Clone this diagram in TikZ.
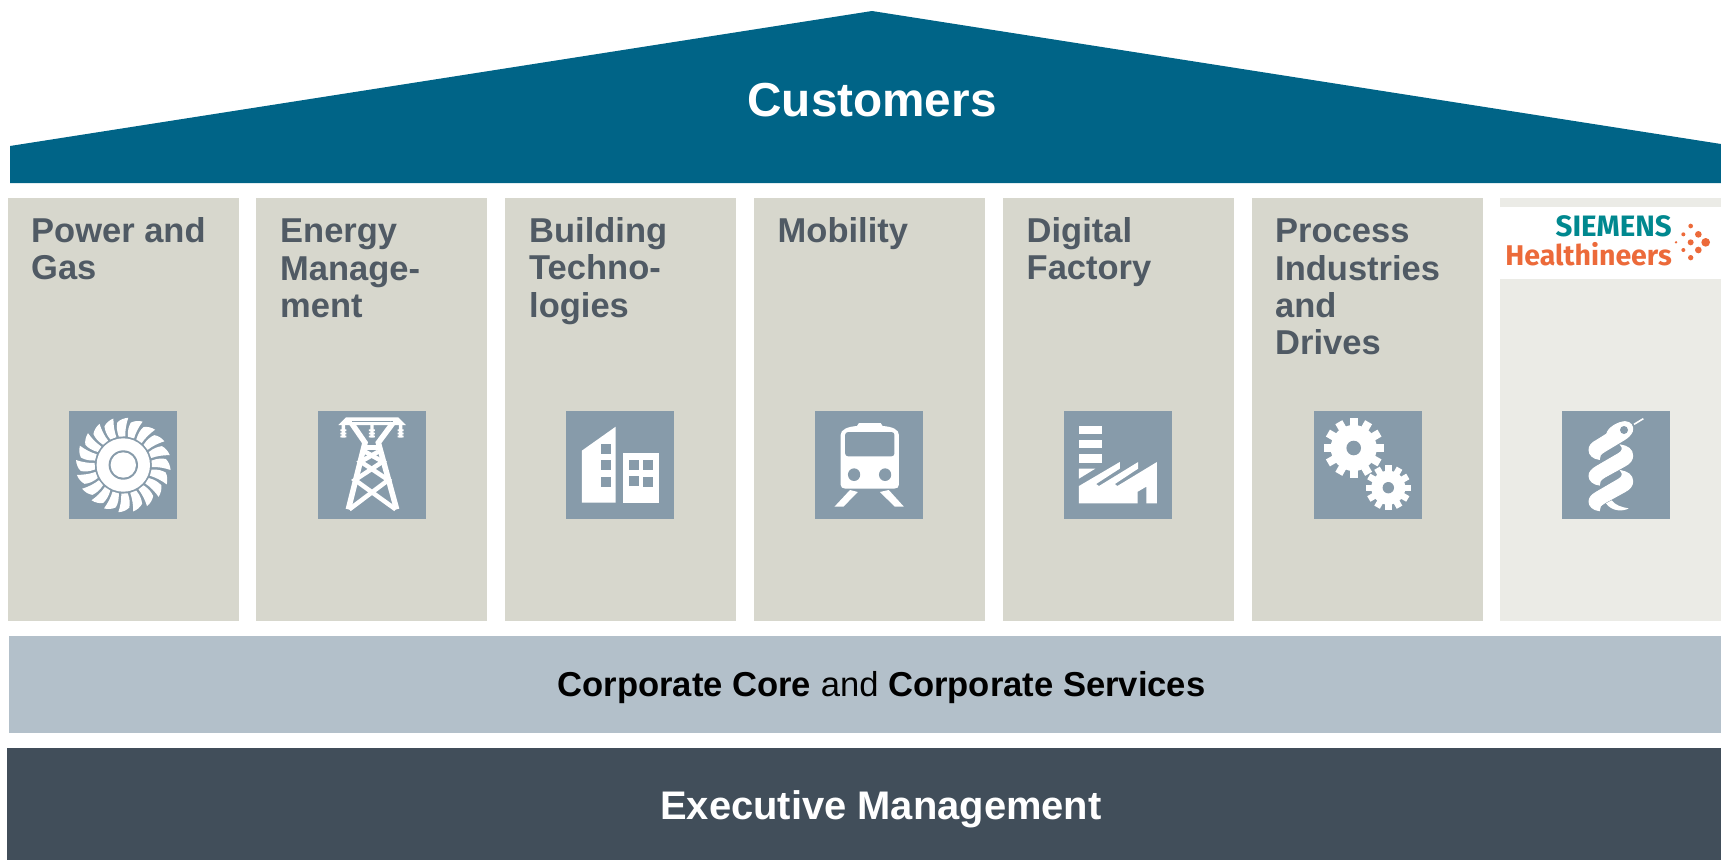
\documentclass[tikz,border=0pt]{standalone}
\usepackage{fontspec}
\setmainfont{Liberation Sans}
\newfontfamily\logofont{Fira Sans}
\definecolor{roofblue}{HTML}{006487}
\definecolor{colgrey}{HTML}{D7D7CD}
\definecolor{collight}{HTML}{EBEBE6}
\definecolor{iconblue}{HTML}{879BAA}
\definecolor{corebar}{HTML}{B3C0CA}
\definecolor{execbar}{HTML}{414E5A}
\definecolor{coltext}{HTML}{505A64}
\definecolor{logoteal}{HTML}{00888F}
\definecolor{logoorange}{HTML}{EC6A3A}
\tikzset{
  colbox/.style={fill=colgrey,inner sep=0,minimum width=231pt,minimum height=423pt,anchor=north west},
  iconbox/.style={fill=iconblue,inner sep=0,minimum size=108pt},
  collabel/.style={text=coltext,inner sep=0,anchor=north west,align=left,execute at begin node=\strut,font=\bfseries\fontsize{34.5}{37.3}\selectfont},
  zoomone/.style={shift={(50,390)},scale=1/3},
  zoomtwo/.style={shift={(550,390)},xscale=1/2.45,yscale=1/3},
  zoomthree/.style={shift={(1290,390)},scale=1/3},
  logozoom/.style={shift={(1480,190)},scale=1/3},
}
\begin{document}
\begin{tikzpicture}[x=1pt,y=-1pt]
\useasboundingbox (0,0) rectangle (1721,860);
\fill[roofblue] (10,146) -- (872,11) -- (1721,144) -- (1721,183) -- (10,183) -- cycle;
\node[white,font=\bfseries\fontsize{47.7}{50}\selectfont] (customers) at (872,100) {Customers};
%
\node[colbox] (power) at (8,197.5) {};
\node[colbox] (energy) at (256,197.5) {};
\node[colbox] (building) at (505,197.5) {};
\node[colbox] (mobility) at (754,197.5) {};
\node[colbox] (digital) at (1003,197.5) {};
\node[colbox] (process) at (1252,197.5) {};
\node[colbox,fill=collight,minimum width=221pt] (health) at (1500,197.5) {};
%
\node[collabel] (powertext) at (31,217.4) {Power and\\Gas};
\node[collabel] (energytext) at (280,218.8) {Energy\\Manage-\\ment};
\node[collabel] (buildingtext) at (529,217.4) {Building\\Techno-\\logies};
\node[collabel] (mobilitytext) at (777.5,216.4) {Mobility};
\node[collabel] (digitaltext) at (1026.5,217.4) {Digital\\Factory};
\node[collabel] (processtext) at (1275,219) {Process\\Industries\\and\\Drives};
%
\node[iconbox] (powericon) at (123,465) {};
\node[iconbox] (energyicon) at (371.5,465) {};
\node[iconbox] (buildingicon) at (620,465) {};
\node[iconbox] (mobilityicon) at (869,465) {};
\node[iconbox] (digitalicon) at (1118,465) {};
\node[iconbox] (processicon) at (1367.5,465) {};
\node[iconbox] (healthicon) at (1616,465) {};
%
% turbine
\begin{scope}[shift={(123.3,465)},yscale=-1]
\foreach \a in {0,18,...,350}
  \fill[white,rotate=\a] (99:28.7) .. controls (101:35) and (100:39) .. (98:43) .. controls (94:45.5) and (89:47) .. (84:47.5) .. controls (86:41) and (87:35) .. (86:28.7) -- cycle;
\fill[white] (0,0) circle (26.7);
\fill[iconblue] (0,0) circle (14.7);
\fill[white] (0,0) circle (12.7);
\end{scope}
%
% tower
\begin{scope}[zoomone,white]
\fill (865,105) -- (888,82) -- (1045,82) -- (1068,105) -- cycle;
\fill[iconblue] (905,92) rectangle (1030,96);
\draw[line width=5.5pt] (905,100) -- (945,158) -- (895,358);
\draw[line width=5.5pt] (1028,100) -- (985,158) -- (1040,358);
\draw[line width=4.5pt] (940,172) -- (990,172);
\draw[line width=4.5pt] (898,358) -- (1015,270) -- (932,215) -- (985,185);
\draw[line width=4.5pt] (1037,358) -- (915,270) -- (998,215) -- (945,185);
\foreach \x in {880,966,1052}
  \fill (\x-5,105) rectangle (\x+5,143) (\x-9,118) rectangle (\x+9,123) (\x-9,128) rectangle (\x+9,133) (\x-9,137) rectangle (\x+9,142);
\end{scope}
%
% buildings
\begin{scope}[zoomtwo]
\fill[white] (78,182) -- (161,110) -- (161,338) -- (78,338) -- cycle;
\fill[white] (179,189) rectangle (267,339);
\fill[iconblue] (125,162) rectangle (149,192);
\fill[iconblue] (125,210) rectangle (149,240);
\fill[iconblue] (125,261) rectangle (149,291);
\fill[iconblue] (194,210) rectangle (218,240);
\fill[iconblue] (228,210) rectangle (252,240);
\fill[iconblue] (194,258) rectangle (218,288);
\fill[iconblue] (228,261) rectangle (252,291);
%
% train
\fill[white] (712,135) .. controls (712,118) and (730,110) .. (752,108) -- (757,99) -- (810,99) -- (815,108) .. controls (838,110) and (855,118) .. (855,135) -- (855,284) .. controls (855,292) and (850,296) .. (843,296) -- (724,296) .. controls (717,296) and (712,292) .. (712,284) -- cycle;
\fill[iconblue,rounded corners=3pt] (723,126) rectangle (844,199);
\fill[iconblue] (745,254) ellipse (15 and 19);
\fill[iconblue] (821,254) ellipse (15 and 19);
\fill[white] (735,300) -- (754,306) -- (719,350) -- (697,350) -- cycle;
\fill[white] (808,306) -- (830,300) -- (867,350) -- (845,350) -- cycle;
%
% factory
\fill[white] (1296,108) rectangle (1352,132);
\fill[white] (1296,150) rectangle (1352,174);
\fill[white] (1296,192) rectangle (1352,219);
\fill[white] (1296,236) -- (1336,236) -- (1296,266) -- cycle;
\fill[white] (1296,340) -- (1296,288) -- (1396,216) -- (1396,236) -- (1338,282) -- (1345,288) -- (1441,216) -- (1441,236) -- (1384,282) -- (1390,288) -- (1487,216) -- (1487,340) -- (1461,340) -- (1461,290) -- (1440,305) -- (1440,340) -- cycle;
\end{scope}
%
% gears
\begin{scope}[shift={(1353.7,448)}]
\foreach \a in {0,30,...,330}
  \fill[white,rotate=\a] (-4,-22) rectangle (4,-29.8);
\fill[white] (0,0) circle (23);
\fill[iconblue] (0,0) circle (7.3);
\end{scope}
\begin{scope}[shift={(1388.3,487.7)}]
\foreach \a in {0,30,...,330}
  \fill[white,rotate=\a] (-3.2,-16) rectangle (3.2,-22.5);
\fill[white] (0,0) circle (17);
\fill[iconblue] (0,0) circle (5.7);
\end{scope}
%
% snake
\begin{scope}[zoomthree]
\draw[white,line width=1.6pt] (1032,103) -- (1060,86);
\filldraw[white,line width=1pt] (950,132) .. controls (955,112) and (985,96) .. (1005,95) .. controls (1022,95) and (1032,110) .. (1027,124) .. controls (1022,136) and (1012,144) .. (1000,151) -- (945,184) .. controls (932,192) and (926,198) .. (928,208) .. controls (910,206) and (897,195) .. (897,180) .. controls (897,168) and (905,158) .. (918,152) -- cycle;
\foreach \y in {0,77}
  \filldraw[white,line width=1pt,yshift=-\y] (992,165) .. controls (1012,168) and (1028,178) .. (1028,197) .. controls (1028,210) and (1020,220) .. (1005,228) -- (945,261) .. controls (932,269) and (926,275) .. (928,285) .. controls (910,283) and (897,272) .. (897,258) .. controls (897,246) and (905,238) .. (918,230) -- (985,191) .. controls (998,184) and (1000,174) .. (992,165) -- cycle;
\fill[white] (948,340) -- (965,331) .. controls (975,345) and (995,352) .. (1016,355) .. controls (1000,365) and (965,365) .. (948,340) -- cycle;
\fill[iconblue] (1002,120) circle (12);
\end{scope}
%
% logo
\node[fill=white,inner sep=0,minimum width=221pt,minimum height=72pt,anchor=north west] (logoband) at (1500,207) {};
\node[logoteal,inner sep=0,anchor=base east,font=\logofont\bfseries\fontsize{29.5}{30}\selectfont] (logotop) at (1672,236) {SIEMENS};
\node[logoorange,inner sep=0,anchor=base east,font=\logofont\bfseries\fontsize{28.5}{30}\selectfont] (logobottom) at (1672,265) {Healthineers};
\begin{scope}[logozoom,logoorange]
\fill (632,108) circle (7);
\fill (610,133) circle (6);
\fill (655,133) circle (10);
\fill (588,157) circle (4);
\fill (632,157) circle (9);
\fill (677,157) circle (13);
\fill (610,180) circle (6);
\fill (655,180) circle (10);
\fill (632,203) circle (8);
\end{scope}
%
\fill[corebar] (9,635.5) rectangle (1721,733);
\node[font=\fontsize{34.6}{40}\selectfont] (core) at (881.5,687.5) {\textbf{Corporate Core} and \textbf{Corporate Services}};
\fill[execbar] (7,747.5) rectangle (1721,860);
\node[white,font=\bfseries\fontsize{39.9}{42}\selectfont] (exec) at (881,809) {Executive Management};
\end{tikzpicture}
\end{document}
